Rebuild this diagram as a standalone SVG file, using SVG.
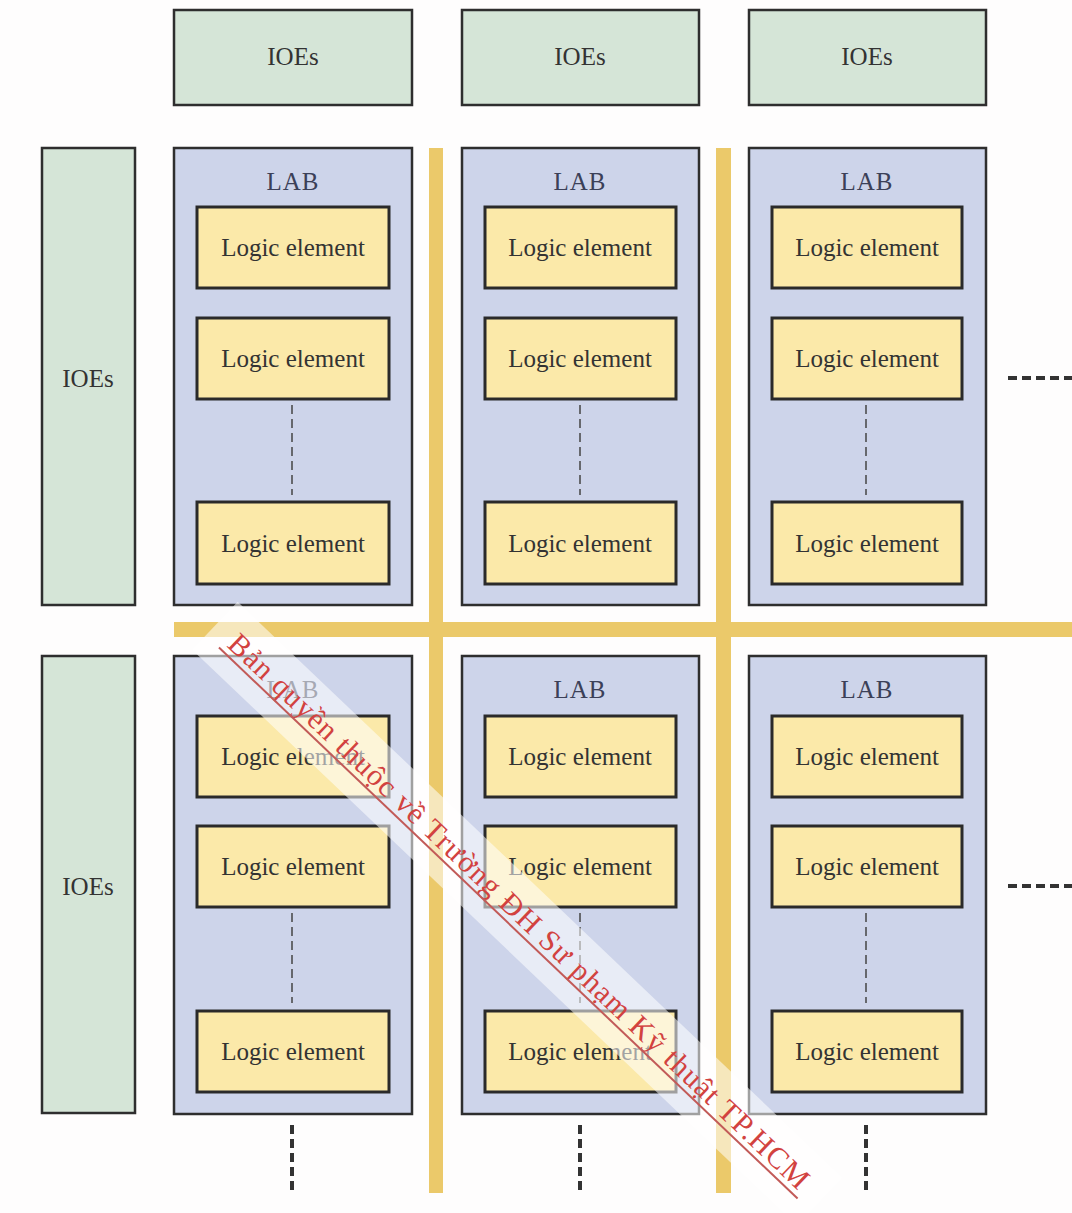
<svg xmlns="http://www.w3.org/2000/svg" width="1072" height="1213" viewBox="0 0 1072 1213">
<style>
.ioe{fill:#d5e5d7;stroke:#2e2e2e;stroke-width:2.5}
.lab{fill:#cdd4ea;stroke:#2e2e2e;stroke-width:2.5}
.le{fill:#fbe9a9;stroke:#2a2a2a;stroke-width:3}
.bus{fill:#ebc96a}
.t{font-family:"Liberation Serif","Times New Roman",serif;font-size:25px;fill:#333;text-anchor:middle;dominant-baseline:central}
.tl{font-family:"Liberation Serif","Times New Roman",serif;font-size:25px;fill:#3b4058;text-anchor:middle;dominant-baseline:central;letter-spacing:1px}
.dots{stroke:#444;stroke-width:1.5;stroke-dasharray:9 5;fill:none}
.more{stroke:#333;stroke-width:4;stroke-dasharray:9 5;fill:none}
.wm{font-family:"Liberation Serif","Times New Roman",serif;font-size:30px;fill:#d2423f}
</style>
<rect width="1072" height="1213" fill="#fefdfd"/>
<g id="buses">
<rect class="bus" x="429" y="148" width="14" height="1045"/>
<rect class="bus" x="716" y="148" width="15" height="1045"/>
<rect class="bus" x="174" y="622" width="898" height="15"/>
</g>
<g id="ioe-top-1"><rect class="ioe" x="174" y="10" width="238" height="95"/><text class="t" x="293" y="56">IOEs</text></g>
<g id="ioe-top-2"><rect class="ioe" x="462" y="10" width="237" height="95"/><text class="t" x="580" y="56">IOEs</text></g>
<g id="ioe-top-3"><rect class="ioe" x="749" y="10" width="237" height="95"/><text class="t" x="867" y="56">IOEs</text></g>
<g id="ioe-left-1"><rect class="ioe" x="42" y="148" width="93" height="457"/><text class="t" x="88" y="378">IOEs</text></g>
<g id="ioe-left-2"><rect class="ioe" x="42" y="656" width="93" height="457"/><text class="t" x="88" y="886">IOEs</text></g>

<g id="lab-1-1"><rect class="lab" x="174" y="148" width="238" height="457"/><text class="tl" x="293" y="181">LAB</text>
<rect class="le" x="197" y="207" width="192" height="81"/><text class="t" x="293" y="247">Logic element</text>
<rect class="le" x="197" y="318" width="192" height="81"/><text class="t" x="293" y="358">Logic element</text>
<rect class="le" x="197" y="502" width="192" height="82"/><text class="t" x="293" y="543">Logic element</text></g>
<g id="lab-1-2"><rect class="lab" x="462" y="148" width="237" height="457"/><text class="tl" x="580" y="181">LAB</text>
<rect class="le" x="485" y="207" width="191" height="81"/><text class="t" x="580" y="247">Logic element</text>
<rect class="le" x="485" y="318" width="191" height="81"/><text class="t" x="580" y="358">Logic element</text>
<rect class="le" x="485" y="502" width="191" height="82"/><text class="t" x="580" y="543">Logic element</text></g>
<g id="lab-1-3"><rect class="lab" x="749" y="148" width="237" height="457"/><text class="tl" x="867" y="181">LAB</text>
<rect class="le" x="772" y="207" width="190" height="81"/><text class="t" x="867" y="247">Logic element</text>
<rect class="le" x="772" y="318" width="190" height="81"/><text class="t" x="867" y="358">Logic element</text>
<rect class="le" x="772" y="502" width="190" height="82"/><text class="t" x="867" y="543">Logic element</text></g>

<g id="lab-2-1"><rect class="lab" x="174" y="656" width="238" height="458"/><text class="tl" x="293" y="689">LAB</text>
<rect class="le" x="197" y="716" width="192" height="81"/><text class="t" x="293" y="756">Logic element</text>
<rect class="le" x="197" y="826" width="192" height="81"/><text class="t" x="293" y="866">Logic element</text>
<rect class="le" x="197" y="1011" width="192" height="81"/><text class="t" x="293" y="1051">Logic element</text></g>
<g id="lab-2-2"><rect class="lab" x="462" y="656" width="237" height="458"/><text class="tl" x="580" y="689">LAB</text>
<rect class="le" x="485" y="716" width="191" height="81"/><text class="t" x="580" y="756">Logic element</text>
<rect class="le" x="485" y="826" width="191" height="81"/><text class="t" x="580" y="866">Logic element</text>
<rect class="le" x="485" y="1011" width="191" height="81"/><text class="t" x="580" y="1051">Logic element</text></g>
<g id="lab-2-3"><rect class="lab" x="749" y="656" width="237" height="458"/><text class="tl" x="867" y="689">LAB</text>
<rect class="le" x="772" y="716" width="190" height="81"/><text class="t" x="867" y="756">Logic element</text>
<rect class="le" x="772" y="826" width="190" height="81"/><text class="t" x="867" y="866">Logic element</text>
<rect class="le" x="772" y="1011" width="190" height="81"/><text class="t" x="867" y="1051">Logic element</text></g>

<g id="connectors">
<path class="dots" d="M292 405V495M580 405V495M866 405V495M292 913V1003M580 913V1003M866 913V1003"/>
<path class="more" d="M1008 378H1072M1008 886H1072"/>
<path class="more" d="M292 1125V1190M580 1125V1190M866 1125V1190"/>
</g>

<g id="watermark" transform="translate(226,646) rotate(43.6)">
<rect x="-22" y="-40" width="835" height="66" fill="#ffffff" opacity="0.55"/>
<text class="wm" x="0" y="0" textLength="790" lengthAdjust="spacing">Bản quyền thuộc về Trường ĐH Sư phạm Kỹ thuật TP.HCM</text>
<line x1="-4" y1="6" x2="795" y2="6" stroke="#c25a58" stroke-width="2"/>
</g>
</svg>
